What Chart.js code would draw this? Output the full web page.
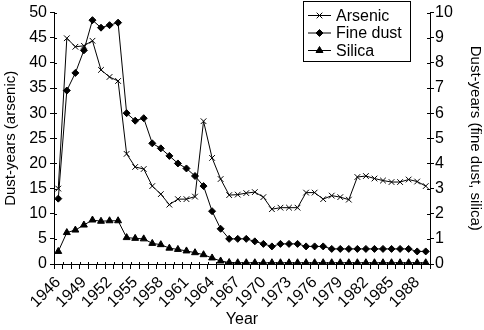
<!DOCTYPE html>
<html>
<head>
<meta charset="utf-8">
<script src="https://cdn.jsdelivr.net/npm/chart.js@4/dist/chart.umd.min.js"></script>
<style>
  body { margin: 0; background: #fff; }
  #wrap { width: 484px; height: 330px; }
</style>
</head>
<body>
<div id="wrap"><canvas id="dust" width="484" height="330"></canvas></div>
<script>
const years = ['1946', '1947', '1948', '1949', '1950', '1951', '1952', '1953', '1954', '1955',
    '1956', '1957', '1958', '1959', '1960', '1961', '1962', '1963', '1964', '1965',
    '1966', '1967', '1968', '1969', '1970', '1971', '1972', '1973', '1974', '1975',
    '1976', '1977', '1978', '1979', '1980', '1981', '1982', '1983', '1984', '1985',
    '1986', '1987', '1988', '1989'];
const yearLabels = ['1946', '1949', '1952', '1955', '1958', '1961', '1964', '1967', '1970',
    '1973', '1976', '1979', '1982', '1985', '1988'];

const arsenic = [15.0, 44.9, 43.2, 43.4, 44.4, 38.6, 37.2, 36.4, 21.9, 19.3,
    18.9, 15.5, 13.9, 11.8, 12.9, 12.9, 13.4, 28.4, 21.1, 16.9,
    13.7, 13.8, 14.1, 14.3, 13.3, 10.9, 11.2, 11.2, 11.2, 14.2,
    14.2, 12.9, 13.6, 13.3, 12.8, 17.3, 17.5, 17.0, 16.6, 16.3,
    16.3, 16.8, 16.4, 15.5];
const fineDust = [2.6, 6.9, 7.6, 8.5, 9.7, 9.4, 9.5, 9.6, 6.0, 5.7,
    5.8, 4.8, 4.6, 4.3, 4.0, 3.8, 3.5, 3.1, 2.1, 1.4,
    1.0, 1.0, 1.0, 0.9, 0.8, 0.7, 0.8, 0.8, 0.8, 0.7,
    0.7, 0.7, 0.6, 0.6, 0.6, 0.6, 0.6, 0.6, 0.6, 0.6,
    0.6, 0.6, 0.5, 0.5];
const silica = [0.5, 1.25, 1.35, 1.55, 1.75, 1.7, 1.72, 1.72, 1.05, 1.02,
    1.0, 0.82, 0.77, 0.63, 0.58, 0.52, 0.45, 0.37, 0.24, 0.12,
    0.06, 0.05, 0.05, 0.05, 0.05, 0.05, 0.05, 0.05, 0.05, 0.05,
    0.05, 0.05, 0.05, 0.05, 0.05, 0.05, 0.05, 0.05, 0.05, 0.05,
    0.05, 0.05, 0.05, 0.05];

const font = 'Liberation Sans, Arial, sans-serif';

// draws the boxed legend (line + marker + text) and inner halves of the crossing ticks
const extras = {
    id: 'extras',
    afterDraw(chart) {
        const ctx = chart.ctx;
        ctx.save();
        ctx.strokeStyle = '#000';
        ctx.lineWidth = 1;
        // inner tick halves
        const ya = chart.scales.y, yb = chart.scales.y1, xs = chart.scales.x;
        ctx.beginPath();
        ya.ticks.forEach(t => {
            const p = Math.round(ya.getPixelForValue(t.value)) + 0.5;
            ctx.moveTo(ya.right, p); ctx.lineTo(ya.right + 3, p);
        });
        yb.ticks.forEach(t => {
            const p = Math.round(yb.getPixelForValue(t.value)) + 0.5;
            ctx.moveTo(yb.left - 3, p); ctx.lineTo(yb.left, p);
        });
        const n = years.length;
        for (let i = 0; i <= n; i++) {
            const p = Math.round(xs.left + i * (xs.right - xs.left) / n) + 0.5;
            ctx.moveTo(p, xs.top - 2); ctx.lineTo(p, xs.top);
        }
        ctx.stroke();

        // legend
        const bx = 303.5, by = 1.5, bw = 107, bh = 60;
        ctx.fillStyle = '#fff';
        ctx.fillRect(bx, by, bw, bh);
        ctx.strokeRect(bx, by, bw, bh);
        ctx.font = '16px ' + font;
        ctx.textBaseline = 'middle';
        chart.data.datasets.forEach((ds, i) => {
            const yy = 15.5 + i * 17.5;
            ctx.beginPath();
            ctx.moveTo(308, yy); ctx.lineTo(331, yy);
            ctx.stroke();
            Chart.helpers.drawPoint(ctx, {
                pointStyle: ds.pointStyle, radius: ds.pointRadius, rotation: 0, borderWidth: 1
            }, 319.5, yy);
            ctx.fillStyle = '#000';
            ctx.fillText(ds.label, 336, yy + 1);
        });
        ctx.restore();
    }
};

const ds = (label, data, style, r, axis) => ({
    label: label,
    data: data,
    yAxisID: axis,
    borderColor: '#000',
    backgroundColor: '#000',
    borderWidth: 1,
    pointStyle: style,
    pointRadius: r,
    pointBorderWidth: 1,
    pointBorderColor: '#000',
    pointBackgroundColor: '#000',
    tension: 0
});

new Chart(document.getElementById('dust').getContext('2d'), {
    type: 'line',
    data: {
        labels: years,
        datasets: [
            ds('Arsenic', arsenic, 'crossRot', 4, 'y'),
            ds('Fine dust', fineDust, 'rectRot', 3.5, 'y1'),
            ds('Silica', silica, 'triangle', 4, 'y1')
        ]
    },
    options: {
        responsive: false,
        animation: false,
        layout: { padding: { top: 11, left: 0, right: 0, bottom: 1 } },
        plugins: { legend: { display: false }, tooltip: { enabled: false } },
        scales: {
            x: {
                offset: true,
                grid: { drawOnChartArea: false, offset: true, tickLength: 5, color: '#000' },
                border: { color: '#000' },
                ticks: {
                    autoSkip: false, maxRotation: 45, minRotation: 45, padding: 4,
                    color: '#000', font: { family: font, size: 16 },
                    callback: function (v, i) {
                        const l = years[i];
                        return yearLabels.includes(l) ? l : '';
                    }
                },
                title: { display: true, text: 'Year', color: '#000', font: { family: font, size: 16 }, padding: 0 },
                afterFit: s => { s.height = 65; }
            },
            y: {
                position: 'left', min: 0, max: 50,
                grid: { drawOnChartArea: false, tickLength: 4, color: '#000' },
                border: { color: '#000' },
                ticks: { stepSize: 5, padding: 3, color: '#000', font: { family: font, size: 16 } },
                title: { display: true, text: 'Dust-years (arsenic)', color: '#000', font: { family: font, size: 15 }, padding: 2 },
                afterFit: s => { s.width = 54; }
            },
            y1: {
                position: 'right', min: 0, max: 10,
                grid: { drawOnChartArea: false, tickLength: 4, color: '#000' },
                border: { color: '#000' },
                ticks: { stepSize: 1, padding: 1, color: '#000', font: { family: font, size: 16 } },
                title: { display: true, text: 'Dust-years (fine dust, silica)', color: '#000', font: { family: font, size: 15 }, padding: 0 },
                afterFit: s => { s.width = 54; }
            }
        }
    },
    plugins: [extras]
});
</script>
</body>
</html>
